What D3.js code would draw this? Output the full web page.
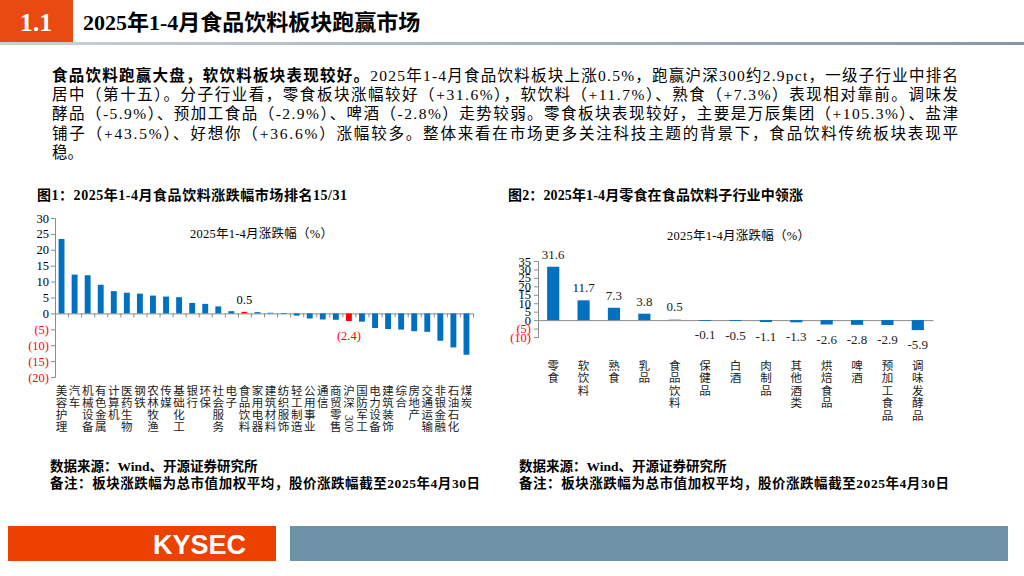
<!DOCTYPE html>
<html>
<head>
<meta charset="utf-8">
<script src="https://cdn.jsdelivr.net/npm/d3@7"></script>
<style>
body{margin:0;background:#fff}
svg{display:block}
</style>
</head>
<body>
<div id="chart"></div>
<script>
// chart 1: industries ranked by Jan-Apr 2025 change (%)
const catsA = ['美容护理','汽车','机械设备','有色金属','计算机','医药生物','钢铁','农林牧渔','传媒','基础化工',
  '银行','环保','社会服务','电子','食品饮料','家用电器','建筑材料','纺织服饰','轻工制造','公用事业',
  '通信','商贸零售','沪深300','国防军工','电力设备','建筑装饰','综合','房地产','交通运输','非银金融',
  '石油石化','煤炭']
const valsA = [23.4,12.2,12.0,9.0,7.0,6.5,6.2,5.6,5.3,5.1,
  3.3,3.0,2.2,0.7,0.5,0.4,0.2,-0.2,-0.7,-1.6,
  -1.9,-2.0,-2.4,-2.6,-4.6,-4.9,-5.1,-5.6,-5.8,-8.6,
  -10.7,-13.0]
const highlightA = ['食品饮料','沪深300']
const ticksA = [30,25,20,15,10,5,0,-5,-10,-15,-20]

// chart 2: food & beverage sub-industries
const catsB = ['零食','软饮料','熟食','乳品','食品饮料','保健品','白酒','肉制品','其他酒类','烘焙食品','啤酒','预加工食品','调味发酵品']
const valsB = [31.6,11.7,7.3,3.8,0.5,-0.1,-0.5,-1.1,-1.3,-2.6,-2.8,-2.9,-5.9]
const ticksB = [35,30,25,20,15,10,5,0,-5,-10]

const legendText = '2025年1-4月涨跌幅（%）'
const paraLines = [
  ['食品饮料跑赢大盘，软饮料板块表现较好。','2025年1-4月食品饮料板块上涨0.5%，跑赢沪深300约2.9pct，一级子行业中排名'],
  ['','居中（第十五）。分子行业看，零食板块涨幅较好（+31.6%），软饮料（+11.7%）、熟食（+7.3%）表现相对靠前。调味发'],
  ['','酵品（-5.9%）、预加工食品（-2.9%）、啤酒（-2.8%）走势较弱。零食板块表现较好，主要是万辰集团（+105.3%）、盐津'],
  ['','铺子（+43.5%）、好想你（+36.6%）涨幅较多。整体来看在市场更多关注科技主题的背景下，食品饮料传统板块表现平'],
  ['','稳。']
]

const W = 1024, H = 576
const serif = "'Liberation Serif','Noto Sans CJK SC',serif"
const blue = '#0070c0'

const svg = d3.select('#chart').append('svg')
  .attr('width', W).attr('height', H)
  .style('font-family', serif)

// header
const defs = svg.append('defs')
const grad = defs.append('linearGradient').attr('id','hline')
grad.append('stop').attr('offset','0%').attr('stop-color','#c9d0d6')
grad.append('stop').attr('offset','100%').attr('stop-color','#8797a4')

svg.append('rect').attr('x',0).attr('y',0).attr('width',73).attr('height',42).attr('fill','#e94a12')
svg.append('text').attr('x',36).attr('y',31).attr('text-anchor','middle')
  .attr('fill','white').attr('font-weight','bold').attr('font-size','26px').text('1.1')
svg.append('text').attr('x',83).attr('y',30)
  .attr('font-weight','bold').attr('font-size','22px').text('2025年1-4月食品饮料板块跑赢市场')
svg.append('rect').attr('x',0).attr('y',42).attr('width',W).attr('height',3).attr('fill','url(#hline)')

// paragraph
paraLines.forEach(function(l,i){
  const t = svg.append('text').attr('x',52).attr('y',81 + i*19.2).attr('font-size','15.5px')
  if(i < 4) t.attr('textLength',906).attr('lengthAdjust','spacing')
  if(l[0]) t.append('tspan').attr('font-weight','bold').text(l[0])
  t.append('tspan').text(l[1])
})

// helpers
function tokens(s){ return s.match(/[0-9]+|./g) }
function fmtTick(d){ return d < 0 ? `(${-d})` : d }

function vertLabels(g, cats, xs, y0, step){
  cats.forEach(function(c){
    const cx = xs(c) + xs.bandwidth()/2
    let y = y0
    tokens(c).forEach(function(tk){
      if(/[0-9]/.test(tk)){
        g.append('text').attr('transform',`translate(${cx-4},${y-4}) rotate(90)`)
          .attr('font-size','11.5px').attr('fill','#222').text(tk)
        y += tk.length*5.8
      } else {
        g.append('text').attr('x',cx).attr('y',y).attr('text-anchor','middle')
          .attr('font-size','11.5px').attr('fill','#222').text(tk)
        y += step
      }
    })
  })
}

function styleAxis(g){
  g.select('.domain').attr('stroke','#8c8c8c')
  g.selectAll('.tick line').attr('stroke','#8c8c8c')
  g.selectAll('.tick text').attr('font-family',serif).attr('font-size','12.5px')
    .attr('fill', d => d < 0 ? '#ff0000' : '#000')
}

// chart 1
svg.append('text').attr('x',37).attr('y',200).attr('font-weight','bold').attr('font-size','14px')
  .attr('textLength',310).attr('lengthAdjust','spacing').text('图1：2025年1-4月食品饮料涨跌幅市场排名15/31')

const xA = d3.scaleBand().domain(catsA).range([55,473]).paddingInner(0.55).paddingOuter(0.275)
const yA = d3.scaleLinear().domain([-20,30]).range([377,218])
const g1 = svg.append('g')

g1.append('g').attr('transform','translate(55,0)')
  .call(d3.axisLeft(yA).tickValues(ticksA).tickSize(4).tickPadding(2).tickFormat(fmtTick))
  .call(styleAxis)

const idxA = d3.scaleLinear().domain([0,catsA.length]).range([55,473])
g1.append('g').attr('transform',`translate(0,${yA(0)})`)
  .call(d3.axisBottom(idxA).tickValues(d3.range(0,catsA.length+1)).tickSize(4).tickSizeOuter(0).tickFormat(''))
  .call(styleAxis)

g1.selectAll('.barA').data(catsA).join('rect').attr('class','barA')
  .attr('x', d => xA(d))
  .attr('width', xA.bandwidth())
  .attr('y', (d,i) => yA(Math.max(0,valsA[i])))
  .attr('height', (d,i) => Math.abs(yA(valsA[i]) - yA(0)))
  .attr('fill', d => highlightA.includes(d) ? '#ff0000' : blue)

g1.selectAll('.lblA').data(catsA.filter(d => highlightA.includes(d))).join('text').attr('class','lblA')
  .attr('x', d => xA(d) + xA.bandwidth()/2)
  .attr('y', d => { const v = valsA[catsA.indexOf(d)]; return v >= 0 ? yA(v) - 8 : yA(v) + 19 })
  .attr('text-anchor','middle').attr('font-size','12.5px')
  .attr('fill', d => valsA[catsA.indexOf(d)] < 0 ? '#ff0000' : '#000')
  .text(d => { const v = valsA[catsA.indexOf(d)]; return v < 0 ? `(${(-v).toFixed(1)})` : v.toFixed(1) })

svg.append('text').attr('x',190).attr('y',237.5).attr('font-size','12.5px')
  .attr('textLength',143).attr('lengthAdjust','spacing').text(legendText)

vertLabels(g1, catsA, xA, 394.5, 12.3)

// chart 2
svg.append('text').attr('x',508).attr('y',200).attr('font-weight','bold').attr('font-size','14px')
  .attr('textLength',295).attr('lengthAdjust','spacing').text('图2：2025年1-4月零食在食品饮料子行业中领涨')

const xB = d3.scaleBand().domain(catsB).range([538,933]).paddingInner(0.6).paddingOuter(0.3)
const yB = d3.scaleLinear().domain([-10,35]).range([337,261])
const g2 = svg.append('g')

g2.append('g').attr('transform','translate(538,0)')
  .call(d3.axisLeft(yB).tickValues(ticksB).tickSize(4).tickPadding(3).tickFormat(fmtTick))
  .call(styleAxis)

g2.append('g').attr('transform',`translate(0,${yB(0)})`)
  .call(d3.axisBottom(xB).tickSize(0).tickFormat(''))
  .call(styleAxis)

g2.selectAll('.barB').data(catsB).join('rect').attr('class','barB')
  .attr('x', d => xB(d))
  .attr('width', xB.bandwidth())
  .attr('y', (d,i) => yB(Math.max(0,valsB[i])))
  .attr('height', (d,i) => Math.max(0.8, Math.abs(yB(valsB[i]) - yB(0))))
  .attr('fill', d => d === '食品饮料' ? '#f39a9a' : blue)

g2.selectAll('.lblB').data(catsB).join('text').attr('class','lblB')
  .attr('x', d => xB(d) + xB.bandwidth()/2)
  .attr('y', (d,i) => valsB[i] >= 0 ? yB(valsB[i]) - 8 : yB(valsB[i]) + 19)
  .attr('text-anchor','middle').attr('font-size','13px').attr('fill','#222')
  .text((d,i) => valsB[i].toFixed(1))

svg.append('text').attr('x',667).attr('y',239.5).attr('font-size','12.5px')
  .attr('textLength',143).attr('lengthAdjust','spacing').text(legendText)

vertLabels(g2, catsB, xB, 369.5, 12.5)

// sources
const srcX = [50,519]
srcX.forEach(function(x){
  svg.append('text').attr('x',x).attr('y',471).attr('font-weight','bold').attr('font-size','13.5px')
    .text('数据来源：Wind、开源证券研究所')
  svg.append('text').attr('x',x).attr('y',488).attr('font-weight','bold').attr('font-size','13.5px')
    .attr('textLength',430).attr('lengthAdjust','spacing')
    .text('备注：板块涨跌幅为总市值加权平均，股价涨跌幅截至2025年4月30日')
})

// footer
svg.append('rect').attr('x',8).attr('y',526).attr('width',268).attr('height',35).attr('fill','#ec4100')
svg.append('text').attr('x',246).attr('y',554).attr('text-anchor','end')
  .attr('font-family',"'Liberation Sans',Arial,sans-serif").attr('font-weight','bold')
  .attr('font-size','27px').attr('fill','white').text('KYSEC')
svg.append('rect').attr('x',290).attr('y',526).attr('width',718).attr('height',35).attr('fill','#6d91a5')
</script>
</body>
</html>
